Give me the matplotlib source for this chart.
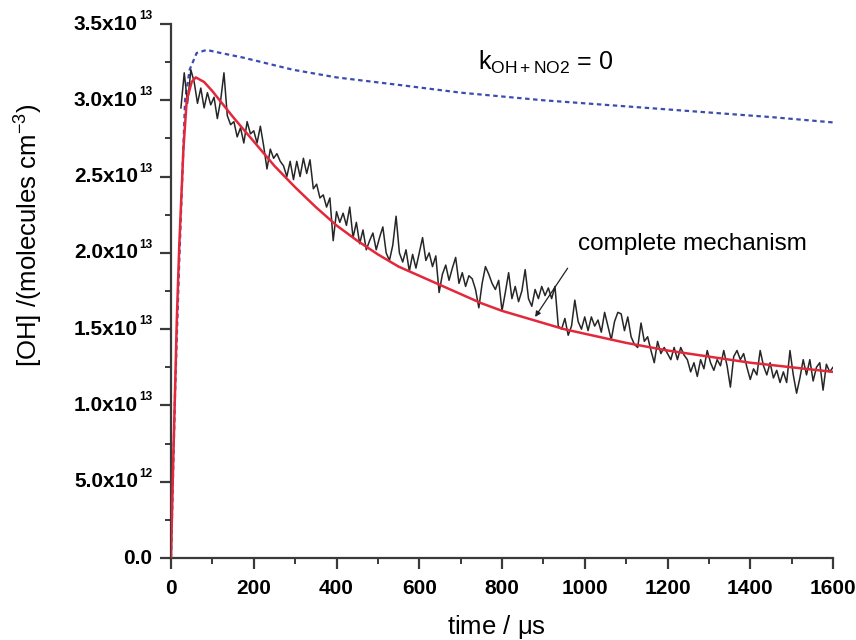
import numpy as np
import matplotlib
matplotlib.use("Agg")
import matplotlib.pyplot as plt
import matplotlib.transforms as mtransforms
from matplotlib.ticker import MultipleLocator, NullFormatter

plt.rcParams['font.family'] = ['Liberation Sans', 'DejaVu Sans']
plt.rcParams['mathtext.fontset'] = 'custom'
plt.rcParams['mathtext.rm'] = 'Liberation Sans'
plt.rcParams['mathtext.it'] = 'Liberation Sans:italic'
plt.rcParams['mathtext.bf'] = 'Liberation Sans:bold'

SCALE = 1e13

# measured trace (units of 1e13 molecules cm^-3), sampled every 8 us from 24 us
t_start, t_step, t_end = 24, 8, 1600
meas = [
    2.95, 3.18, 2.98, 3.20, 3.12, 2.98, 3.08, 2.95, 3.05, 2.97,
    3.02, 2.88, 3.00, 3.18, 2.90, 2.84, 2.86, 2.76, 2.82, 2.72,
    2.86, 2.78, 2.80, 2.72, 2.83, 2.70, 2.55, 2.68, 2.62, 2.65,
    2.60, 2.57, 2.50, 2.60, 2.48, 2.60, 2.50, 2.62, 2.52, 2.61,
    2.42, 2.45, 2.36, 2.38, 2.30, 2.36, 2.08, 2.27, 2.20, 2.26,
    2.18, 2.30, 2.10, 2.20, 2.06, 2.15, 2.02, 2.08, 2.13, 2.02,
    2.10, 2.17, 2.00, 1.95, 2.05, 2.24, 2.00, 1.94, 2.02, 1.88,
    1.99, 1.90, 2.00, 2.10, 1.95, 2.00, 1.91, 1.98, 1.74, 1.86,
    1.92, 1.82, 1.90, 1.97, 1.80, 1.87, 1.78, 1.85, 1.83, 1.76,
    1.64, 1.80, 1.91, 1.86, 1.80, 1.76, 1.82, 1.62, 1.74, 1.87,
    1.70, 1.78, 1.68, 1.75, 1.89, 1.70, 1.65, 1.76, 1.70, 1.78,
    1.72, 1.77, 1.70, 1.78, 1.52, 1.50, 1.57, 1.46, 1.52, 1.69,
    1.55, 1.50, 1.58, 1.49, 1.58, 1.52, 1.56, 1.48, 1.61, 1.52,
    1.43, 1.55, 1.61, 1.60, 1.49, 1.58, 1.45, 1.40, 1.38, 1.54,
    1.42, 1.45, 1.36, 1.28, 1.42, 1.34, 1.38, 1.34, 1.30, 1.38,
    1.30, 1.38, 1.33, 1.30, 1.22, 1.28, 1.19, 1.30, 1.24, 1.36,
    1.28, 1.23, 1.30, 1.26, 1.36, 1.26, 1.12, 1.32, 1.36, 1.30,
    1.34, 1.25, 1.17, 1.24, 1.20, 1.36, 1.26, 1.20, 1.28, 1.18,
    1.23, 1.15, 1.22, 1.15, 1.36, 1.20, 1.08, 1.18, 1.30, 1.20,
    1.30, 1.16, 1.25, 1.28, 1.10, 1.27, 1.22, 1.25,
]
t_meas = np.arange(t_start, t_end + 1, t_step)

# complete mechanism model (red)
t_model = [0, 5, 10, 14, 20, 30, 38, 50, 60, 80, 100, 150, 200, 250, 300, 350,
           400, 450, 500, 550, 600, 650, 700, 750, 800, 850, 900, 950, 1000,
           1100, 1200, 1300, 1400, 1500, 1600]
model = [0.0, 0.6, 1.12, 1.56, 2.05, 2.68, 3.00, 3.12, 3.15, 3.12, 3.06, 2.89,
         2.73, 2.57, 2.43, 2.30, 2.18, 2.08, 1.99, 1.91, 1.85, 1.79, 1.73, 1.67,
         1.62, 1.58, 1.54, 1.50, 1.47, 1.41, 1.36, 1.32, 1.28, 1.25, 1.22]

# k(OH+NO2) = 0 model (blue dotted)
t_k0 = [0, 10, 20, 26, 34, 45, 62, 86, 120, 174, 295, 400, 553, 700, 900,
        1126, 1300, 1450, 1600]
k0 = [0.0, 1.1, 1.95, 2.4, 3.0, 3.2, 3.31, 3.33, 3.31, 3.28, 3.20, 3.15, 3.10,
      3.05, 3.00, 2.955, 2.92, 2.89, 2.855]

y_ticks = [0.0, 0.5, 1.0, 1.5, 2.0, 2.5, 3.0, 3.5]
y_tick_mant = ['0.0', '5.0x10', '1.0x10', '1.5x10', '2.0x10', '2.5x10',
               '3.0x10', '3.5x10']
y_tick_exp = ['', '12', '13', '13', '13', '13', '13', '13']
x_ticks = [0, 200, 400, 600, 800, 1000, 1200, 1400, 1600]

W, H = 856, 640
fig = plt.figure(figsize=(W / 100, H / 100), dpi=100)
ax = fig.add_axes([171/W, 1 - 558/H, 662/W, 534/H])

ax.plot(t_k0, np.array(k0) * SCALE, color='#3b4cb0', lw=1.6,
        dashes=(2.0, 1.6), zorder=2)
ax.plot(t_meas, np.array(meas) * SCALE, color='#262626', lw=1.1, zorder=3)
ax.plot(t_model, np.array(model) * SCALE, color='#e2283a', lw=1.8, zorder=4)

ax.set_xlim(0, 1600)
ax.set_ylim(0, 3.5 * SCALE)
ax.set_xticks(x_ticks)
ax.set_yticks([v * SCALE for v in y_ticks])
ax.xaxis.set_minor_locator(MultipleLocator(100))
ax.yaxis.set_minor_locator(MultipleLocator(0.25 * SCALE))
ax.yaxis.set_major_formatter(NullFormatter())
ax.set_xticklabels([str(v) for v in x_ticks], fontweight='bold')

for s in ['top', 'right']:
    ax.spines[s].set_visible(False)
for s in ['left', 'bottom']:
    ax.spines[s].set_color('#3a3a3a')
    ax.spines[s].set_linewidth(1.6)

ax.tick_params(which='major', direction='out', length=8, width=1.6,
               color='#3a3a3a', labelsize=15)
ax.tick_params(axis='x', which='major', pad=7)
ax.tick_params(which='minor', direction='out', length=4.5, width=1.4,
               color='#3a3a3a')

# y tick labels: mantissa + small superscript exponent
blend = mtransforms.blended_transform_factory(fig.transFigure, ax.transData)
for v, mant, ex in zip(y_ticks, y_tick_mant, y_tick_exp):
    if ex:
        ax.text(138 / W, v * SCALE, mant, transform=blend, fontsize=15,
                fontweight='bold', ha='right', va='center',
                clip_on=False)
        ax.text(139 / W, v * SCALE, ex, fontsize=8.5, fontweight='bold',
                ha='left', va='center', clip_on=False,
                transform=blend + mtransforms.ScaledTranslation(
                    0, 8 / 100, fig.dpi_scale_trans))
    else:
        ax.text(152 / W, v * SCALE, mant, transform=blend, fontsize=15,
                fontweight='bold', ha='right', va='center', clip_on=False)

ax.set_xlabel(r'time / $\mathrm{\mu}$s', fontsize=18.5)
ax.xaxis.set_label_coords(0.492, -0.103)
ax.set_ylabel(r'[OH] /(molecules cm$^{-3}$)', fontsize=18.5)
ax.yaxis.set_label_coords(-0.19, 0.605)

ax.text(742, 3.25 * SCALE, r'k$_{\mathrm{OH+NO2}}$ = 0', fontsize=18,
        ha='left', va='center')

ax.annotate('complete mechanism', xy=(880, 1.58 * SCALE),
            xytext=(984, 2.06 * SCALE), fontsize=17.5, ha='left', va='center',
            arrowprops=dict(arrowstyle='-|>', color='#222222', lw=0.9,
                            mutation_scale=8, shrinkA=10, shrinkB=0,
                            relpos=(0, 0.1)))

fig.savefig('out.png', dpi=100)
